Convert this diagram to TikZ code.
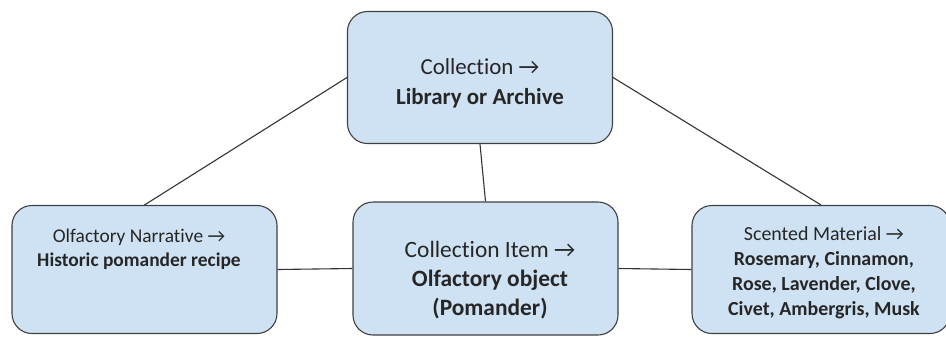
\documentclass[tikz,border=0pt]{standalone}
\usepackage{fontspec}
\setmainfont{Carlito}[Ligatures={NoCommon}]
\begin{document}
\begin{tikzpicture}[x=1bp,y=-1bp,
  box/.style={draw=black!75, line width=1.1bp, fill=boxblue, rounded corners=20bp, inner sep=0pt},
  label/.style={align=center, text=black!85, inner sep=0pt},
  link/.style={draw=black!80, line width=1.1bp}]
\definecolor{boxblue}{HTML}{CFE2F3}
\useasboundingbox (0,0) rectangle (946,336);
\clip (0,0) rectangle (946,336);

% boxes
\node[box, minimum width=265bp, minimum height=132bp] (coll) at (480,77.5) {};
\node[box, minimum width=265bp, minimum height=128bp] (narr) at (144.5,269.5) {};
\node[box, minimum width=265bp, minimum height=133bp] (item) at (485.5,268.5) {};
\node[box, minimum width=258bp, minimum height=128bp] (mat) at (821,269.5) {};

% texts
\node[label, font=\fontsize{23}{30}\selectfont] (colltxt) at (480,83) {Collection →\\\textbf{Library or Archive}};
\node[label, font=\fontsize{19.5}{24}\selectfont] (narrtxt) at (139,249) {Olfactory Narrative →\\\textbf{Historic pomander recipe}};
\node[label, font=\fontsize{23.5}{29}\selectfont] (itemtxt) at (490,280) {Collection Item →\\\textbf{Olfactory object}\\\textbf{(Pomander)}};
\node[label, font=\fontsize{20}{25}\selectfont] (mattxt) at (824,273) {Scented Material →\\\textbf{Rosemary, Cinnamon,}\\\textbf{Rose, Lavender, Clove,}\\\textbf{Civet, Ambergris, Musk}};

% connectors
\draw[link] (coll.west) -- (narr.north);
\draw[link] (coll.east) -- (mat.north);
\draw[link] (coll.south) -- (item.north);
\draw[link] (narr.east) -- (item.west);
\draw[link] (item.east) -- (mat.west);
\end{tikzpicture}
\end{document}
